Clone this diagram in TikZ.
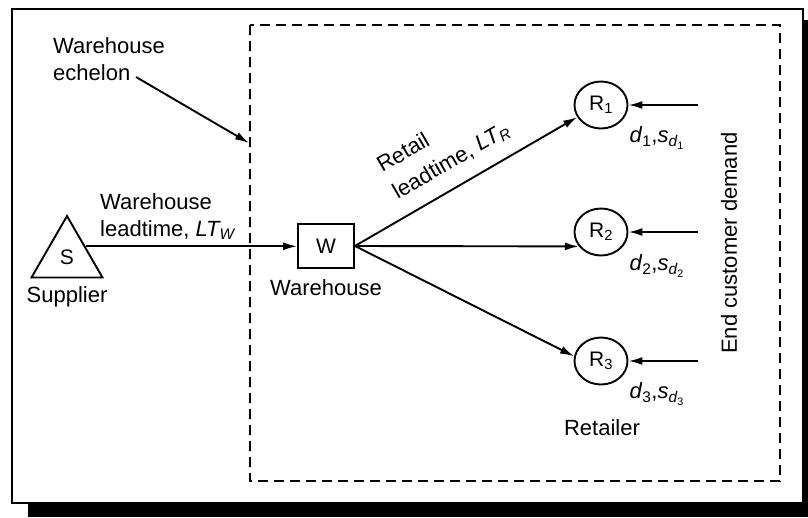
\documentclass[tikz,border=0pt]{standalone}
\usepackage{fontspec}
\setmainfont{Liberation Sans}
\usetikzlibrary{positioning,shapes.geometric,arrows.meta}

\tikzset{
  lbl/.style={font=\fontsize{22}{27}\selectfont, inner sep=0pt},
  nodetxt/.style={font=\fontsize{21}{24}\selectfont},
  link/.style={line width=1.9pt, -{Latex[length=14pt,width=8pt]}},
  retailer/.style={ellipse, draw, line width=1.9pt, minimum width=53pt,
    minimum height=47pt, inner sep=0pt, nodetxt},
}

\begin{document}
\begin{tikzpicture}[x=1pt, y=-1pt]
  \useasboundingbox (0,0) rectangle (808,517);
  % frame and its shadow
  \fill[black] (28,20) rectangle (808,517);
  \draw[fill=white, line width=2.5pt] (12,9) rectangle (803,503);
  % echelon boundary
  \draw[dash pattern=on 10pt off 6pt, line width=1.9pt] (250,25) rectangle (780,481);

  \node[regular polygon, regular polygon sides=3, draw, line width=1.9pt,
    minimum size=82pt, inner sep=0pt, nodetxt] (S) at (67,257) {S};
  \node[lbl, below=8pt of S] (suplbl) {Supplier};

  \node[draw, line width=1.9pt, minimum width=56pt, minimum height=44pt,
    nodetxt] (W) at (326,246) {W};
  \node[lbl, below=10pt of W] (whlbl) {Warehouse};

  \node[retailer] (R1) at (601,105) {R\textsubscript{1}};
  \node[retailer] (R2) at (601,232) {R\textsubscript{2}};
  \node[retailer] (R3) at (601,361) {R\textsubscript{3}};
  \node[lbl] (retlbl) at (602,428) {Retailer};

  \node[lbl] (d1) at (657,138) {\textit{d}\textsubscript{1},\textit{s}\textsubscript{\textit{d}\textsubscript{1}}};
  \node[lbl] (d2) at (657,266) {\textit{d}\textsubscript{2},\textit{s}\textsubscript{\textit{d}\textsubscript{2}}};
  \node[lbl] (d3) at (657,394) {\textit{d}\textsubscript{3},\textit{s}\textsubscript{\textit{d}\textsubscript{3}}};

  \node[lbl, rotate=90] (demand) at (729,243) {End customer demand};

  \node[lbl, align=left, anchor=north west] (echelon) at (53,37) {Warehouse\\echelon};
  \node[lbl, align=left, anchor=north west] (whlead) at (100,193) {Warehouse\\leadtime, \textit{LT\textsubscript{W}}};

  \coordinate (echtail) at (136,77);
  \coordinate (echtip) at (249,143);
  \coordinate (dem1) at (698,105);
  \coordinate (dem2) at (698,232);
  \coordinate (dem3) at (698,361);

  \draw[link] (echtail) -- (echtip);
  \draw[link] (S.side 3) -- (S.side 3 -| W.west);
  \draw[link] (W.east) -- node[lbl, font=\fontsize{22}{31}\selectfont, sloped,
    above=14pt, align=left, pos=0.49] {Retail\\leadtime, \textit{LT\textsubscript{R}}} (R1.207);
  \draw[link] (W.east) -- (R2.213);
  \draw[link] (W.east) -- (R3.170);
  \draw[link] (dem1) -- (R1);
  \draw[link] (dem2) -- (R2);
  \draw[link] (dem3) -- (R3);
\end{tikzpicture}
\end{document}
